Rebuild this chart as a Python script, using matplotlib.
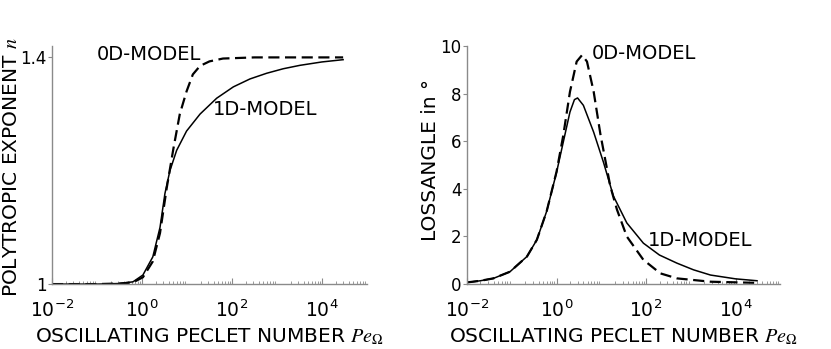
import numpy as np
import matplotlib.pyplot as plt
from matplotlib.ticker import LogLocator, FixedLocator, NullFormatter

# polytropic exponent (left panel), x given as log10(Pe)
n_1d_logx = [-2.0, -1.0, -0.5, -0.2, 0.02, 0.24, 0.4, 0.51, 0.62, 0.77, 0.99,
             1.29, 1.66, 2.03, 2.4, 2.77, 3.14, 3.51, 4.0, 4.47]
n_1d = [1.0, 1.0, 1.001, 1.004, 1.016, 1.048, 1.10, 1.16, 1.20, 1.236, 1.27,
        1.30, 1.328, 1.348, 1.362, 1.372, 1.380, 1.386, 1.392, 1.396]

n_0d_logx = [-2.0, -1.0, -0.5, -0.2, 0.02, 0.24, 0.4, 0.55, 0.7, 0.84, 0.99,
             1.13, 1.29, 1.5, 1.8, 2.5, 3.5, 4.47]
n_0d = [1.0, 1.0, 1.001, 1.003, 1.012, 1.04, 1.09, 1.17, 1.24, 1.30, 1.34,
        1.37, 1.385, 1.393, 1.398, 1.40, 1.40, 1.40]

# loss angle in degrees (right panel)
phi_1d_logx = [-2.0, -1.7, -1.41, -1.04, -0.66, -0.44, -0.22, 0.0, 0.15, 0.30,
               0.40, 0.47, 0.60, 0.83, 1.05, 1.27, 1.57, 1.94, 2.3, 2.69,
               3.06, 3.44, 4.0, 4.48]
phi_1d = [0.07, 0.14, 0.24, 0.52, 1.16, 1.86, 3.06, 4.69, 5.96, 7.23,
          7.75, 7.82, 7.51, 6.38, 5.11, 3.70, 2.57, 1.72, 1.22, 0.88,
          0.60, 0.38, 0.22, 0.14]

phi_0d_logx = [-2.0, -1.7, -1.41, -1.04, -0.66, -0.44, -0.22, 0.0, 0.15, 0.30,
               0.45, 0.57, 0.68, 0.83, 0.98, 1.2, 1.35, 1.57, 1.94, 2.32,
               2.69, 3.44, 4.48]
phi_0d = [0.07, 0.14, 0.24, 0.52, 1.16, 1.86, 3.06, 4.72, 6.24, 8.08,
          9.35, 9.62, 9.35, 8.08, 6.3, 4.12, 3.13, 2.0, 1.02, 0.45,
          0.24, 0.10, 0.05]

xlabel = 'OSCILLATING PECLET NUMBER $Pe_{\\Omega}$'
xtick_pos = [1e-2, 1e0, 1e2, 1e4]

plt.rcParams['font.family'] = 'DejaVu Sans'
plt.rcParams['font.size'] = 13

fig = plt.figure(figsize=(8.31, 3.49), dpi=100)
ax1 = fig.add_axes([0.0626, 0.186, 0.379, 0.682])
ax2 = fig.add_axes([0.562, 0.186, 0.377, 0.682])

gray = '#8a8a8a'


def style(ax):
    ax.set_xscale('log')
    ax.set_xlim(1e-2, 1e5)
    for s in ['top', 'right']:
        ax.spines[s].set_visible(False)
    for s in ['left', 'bottom']:
        ax.spines[s].set_color(gray)
        ax.spines[s].set_linewidth(1.0)
    ax.xaxis.set_major_locator(FixedLocator(xtick_pos))
    ax.xaxis.set_minor_locator(LogLocator(base=10, subs=np.arange(2, 10), numticks=100))
    ax.xaxis.set_minor_formatter(NullFormatter())
    ax.tick_params(axis='x', which='major', direction='in', length=4, color=gray,
                   labelsize=13.5, pad=11)
    ax.tick_params(axis='x', which='minor', direction='in', length=2.5, color=gray)
    ax.tick_params(axis='y', which='major', direction='out', length=3, color=gray,
                   labelsize=12, pad=1)
    ax.set_xlabel(xlabel, fontsize=14.5, labelpad=4, math_fontfamily='stix')


style(ax1)
ax1.plot(10 ** np.array(n_1d_logx), n_1d, color='black', lw=1.1)
ax1.plot(10 ** np.array(n_0d_logx), n_0d, color='black', lw=1.6, dashes=(5, 2.5))
ax1.set_ylim(1, 1.42)
ax1.set_yticks([1, 1.4])
ax1.set_yticklabels(['1', '1.4'])
ax1.set_ylabel('POLYTROPIC EXPONENT $n$', fontsize=14.5, math_fontfamily='stix')
ax1.yaxis.set_label_coords(-0.1, 0.49)
ax1.annotate('0D-MODEL', xy=(0.117, 0.843), xycoords='figure fraction',
             fontsize=14, va='center')
ax1.annotate('1D-MODEL', xy=(0.256, 0.685), xycoords='figure fraction',
             fontsize=14, va='center')

style(ax2)
ax2.plot(10 ** np.array(phi_1d_logx), phi_1d, color='black', lw=1.1)
ax2.plot(10 ** np.array(phi_0d_logx), phi_0d, color='black', lw=1.6, dashes=(5, 2.5))
ax2.set_ylim(0, 10)
ax2.set_yticks([0, 2, 4, 6, 8, 10])
ax2.set_ylabel('LOSSANGLE in °', fontsize=14.5)
ax2.yaxis.set_label_coords(-0.085, 0.52)
ax2.annotate('0D-MODEL', xy=(0.712, 0.848), xycoords='figure fraction',
             fontsize=14, va='center')
ax2.annotate('1D-MODEL', xy=(0.780, 0.312), xycoords='figure fraction',
             fontsize=14, va='center')

fig.savefig('out.png', dpi=100)
